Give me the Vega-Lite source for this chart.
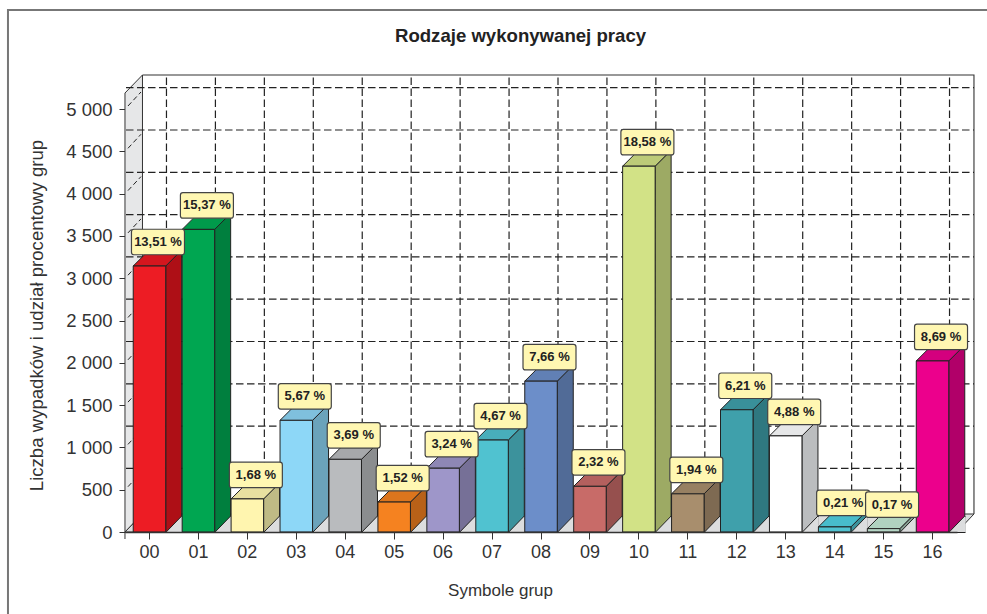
{
"$schema":"https://vega.github.io/schema/vega-lite/v6.json",
"width":849,"height":457,
"autosize":"none",
"padding":{"left":125,"top":75,"right":13,"bottom":82},
"background":"white",
"config":{"font":"Liberation Sans","view":{"stroke":null}},
"title":{"text":"Rodzaje wykonywanej pracy","fontSize":18.6,"fontWeight":"bold","color":"#222","anchor":"middle","dx":-29,"offset":0,"dy":40},
"datasets":{
"bars":[
{"group":"00","value":3144,"label":"13,51 %"},
{"group":"01","value":3577,"label":"15,37 %"},
{"group":"02","value":391,"label":"1,68 %"},
{"group":"03","value":1320,"label":"5,67 %"},
{"group":"04","value":859,"label":"3,69 %"},
{"group":"05","value":354,"label":"1,52 %"},
{"group":"06","value":754,"label":"3,24 %"},
{"group":"07","value":1087,"label":"4,67 %"},
{"group":"08","value":1783,"label":"7,66 %"},
{"group":"09","value":540,"label":"2,32 %"},
{"group":"10","value":4324,"label":"18,58 %"},
{"group":"11","value":451,"label":"1,94 %"},
{"group":"12","value":1445,"label":"6,21 %"},
{"group":"13","value":1136,"label":"4,88 %"},
{"group":"14","value":60,"label":"0,21 %"},
{"group":"15","value":40,"label":"0,17 %"},
{"group":"16","value":2022,"label":"8,69 %"}],
"anchor":[{"group":"00","value":0}],
"ticks":[{"tick":500},{"tick":1000},{"tick":1500},{"tick":2000},{"tick":2500},{"tick":3000},{"tick":3500},{"tick":4000},{"tick":4500},{"tick":5000}]
},
"layer":[
{"data":{"name":"anchor"},"mark":{"type":"point","shape":"M-141.5,90 L-141.5,-522 L850,-522","size":4,"filled":false,"stroke":"#777","strokeWidth":2,"opacity":1,"clip":false},
 "encoding":{
 "x":{"field":"group","type":"nominal","title":"Symbole grup","scale":{"type":"band","domain":["00","01","02","03","04","05","06","07","08","09","10","11","12","13","14","15","16"],"range":[0,832],"paddingInner":0,"paddingOuter":0},
  "axis":{"labelAngle":0,"labelFontSize":18,"labelColor":"#333","labelPadding":4,"tickSize":7,"tickColor":"#333","domainColor":"#333","tickWidth":1,"domainWidth":1.3,"titleFontSize":17,"titleFontWeight":"normal","titleColor":"#333","titleX":375,"titleY":50,"grid":false,"zindex":1}},
 "y":{"field":"value","type":"quantitative","title":"Liczba wypadków i udział procentowy grup","scale":{"domain":[0,5402],"nice":false},
  "axis":{"values":[0,500,1000,1500,2000,2500,3000,3500,4000,4500,5000],"format":",d","labelExpr":"replace(datum.label,',',' ')","labelFontSize":18.5,"labelColor":"#333","labelPadding":7,"tickSize":6,"tickColor":"#333","domain":false,"grid":false,"titleFontSize":18.6,"titleFontWeight":"normal","titleColor":"#333","titleX":-79,"titleY":240}}}},
{"data":{"name":"anchor"},"mark":{"type":"point","shape":"M-24.5,0 L-24.5,-439 L-7,-457 L-7,-18 Z","size":4,"filled":true,"fill":"#E6E7E8","stroke":"#333","strokeWidth":1,"opacity":1},
 "encoding":{"x":{"field":"group","type":"nominal"},"y":{"field":"value","type":"quantitative"}}},
{"data":{"name":"anchor"},"mark":{"type":"point","shape":"M-24.5,0 L807.5,0 L824.5,-18 L-7,-18 Z","size":4,"filled":true,"fill":"#DCDDDE","stroke":"#333","strokeWidth":1,"opacity":1},
 "encoding":{"x":{"field":"group","type":"nominal"},"y":{"field":"value","type":"quantitative"}}},
{"data":{"name":"anchor"},"mark":{"type":"point","shape":"M824.5,-18 L824.5,-457 L-7,-457","size":4,"filled":false,"stroke":"#333","strokeWidth":1.1,"opacity":1},
 "encoding":{"x":{"field":"group","type":"nominal"},"y":{"field":"value","type":"quantitative"}}},
{"data":{"name":"anchor"},"mark":{"type":"point","shape":"M-24.5,0 L-24.5,7","size":4,"filled":false,"stroke":"#333","strokeWidth":1,"opacity":1},
 "encoding":{"x":{"field":"group","type":"nominal"},"y":{"field":"value","type":"quantitative"}}},
{"data":{"name":"ticks"},"mark":{"type":"rule","stroke":"#222","strokeWidth":1.2,"strokeDash":[7.5,3.5],"xOffset":17.5,"yOffset":-21.3,"clip":true},
 "encoding":{"y":{"field":"tick","type":"quantitative"}}},
{"data":{"name":"ticks"},"mark":{"type":"point","shape":"M-21.5,-3 L-8.5,-17","size":4,"filled":false,"stroke":"#222","strokeWidth":1,"strokeDash":[5,3],"opacity":1},
 "encoding":{"x":{"datum":"00","type":"nominal"},"y":{"field":"tick","type":"quantitative"}}},
{"data":{"name":"bars"},"mark":{"type":"rule","stroke":"#222","strokeWidth":1.2,"strokeDash":[7.5,3.5],"xOffset":17,"yOffset":-18},
 "encoding":{"x":{"field":"group","type":"nominal"},"y":{"datum":0,"type":"quantitative"},"y2":{"datum":5402}}},
{"data":{"name":"bars"},"mark":{"type":"point","shape":"M16.25,0 L32.25,-16 L32.25,700 L16.25,700 Z","size":4,"filled":true,"stroke":"#222","strokeWidth":1,"opacity":1,"clip":true},
 "encoding":{"x":{"field":"group","type":"nominal"},"y":{"field":"value","type":"quantitative"},
 "fill":{"field":"group","type":"nominal","legend":null,"scale":{"domain":["00","01","02","03","04","05","06","07","08","09","10","11","12","13","14","15","16"],"range":["#AE0F16","#007F3E","#BFBA85","#6BA3BB","#8B8D8F","#B86118","#767097","#3C929C","#516B97","#96504E","#9DAA64","#7E6A52","#2F7880","#BBBDBF","#3C929C","#88A094","#B10069"]}}}},
{"data":{"name":"bars"},"mark":{"type":"point","shape":"M33,0.5 L16.25,0.5 L32.25,-16 L33,-15.3","size":4,"filled":true,"fill":"#DCDDDE","stroke":"#222","strokeWidth":1,"opacity":1},
 "encoding":{"x":{"field":"group","type":"nominal"},"y":{"datum":0,"type":"quantitative"}}},
{"data":{"name":"bars"},"mark":{"type":"point","shape":"M-16.25,0 L-0.25,-16 L32.25,-16 L16.25,0 Z","size":4,"filled":true,"stroke":"#222","strokeWidth":1,"opacity":1},
 "encoding":{"x":{"field":"group","type":"nominal"},"y":{"field":"value","type":"quantitative"},
 "fill":{"field":"group","type":"nominal","legend":null,"scale":{"domain":["00","01","02","03","04","05","06","07","08","09","10","11","12","13","14","15","16"],"range":["#D4161E","#009A4B","#E8E0A0","#7FC0DD","#A6A8AB","#DC751D","#8E87B5","#48AEBB","#6180B5","#B4605E","#BDCB78","#978062","#39909A","#E6E7E8","#48BCCB","#B0D2C0","#D4007E"]}}}},
{"data":{"name":"bars"},"mark":{"type":"bar","width":32.5,"stroke":"#222","strokeWidth":1},
 "encoding":{"x":{"field":"group","type":"nominal"},"y":{"field":"value","type":"quantitative"},
 "fill":{"field":"group","type":"nominal","legend":null,"scale":{"domain":["00","01","02","03","04","05","06","07","08","09","10","11","12","13","14","15","16"],"range":["#ED1C24","#00A651","#FFF5AF","#8DD7F7","#B9BBBE","#F58220","#9E96C9","#50C2D0","#6C8EC9","#C86B68","#D2E286","#A88E6D","#3FA0AB","#FFFFFF","#50C2D0","#B5D5C5","#EC008C"]}}}},
{"data":{"name":"bars"},"mark":{"type":"point","shape":"M-15.5,-36.75 L32.5,-36.75 Q35,-36.75 35,-34.25 L35,-13.75 Q35,-11.25 32.5,-11.25 L-15.5,-11.25 Q-18,-11.25 -18,-13.75 L-18,-34.25 Q-18,-36.75 -15.5,-36.75 Z","size":4,"filled":true,"fill":"#FFF7B2","stroke":"#444","strokeWidth":1.2,"opacity":1},
 "encoding":{"x":{"field":"group","type":"nominal"},"y":{"field":"value","type":"quantitative"}}},
{"data":{"name":"bars"},"mark":{"type":"text","font":"Liberation Sans","fontWeight":"bold","fontSize":13,"color":"#222","xOffset":8.5,"yOffset":-24,"align":"center","baseline":"middle"},
 "encoding":{"x":{"field":"group","type":"nominal"},"y":{"field":"value","type":"quantitative"},"text":{"field":"label"}}}
],
"resolve":{"scale":{"fill":"independent"}}
}
